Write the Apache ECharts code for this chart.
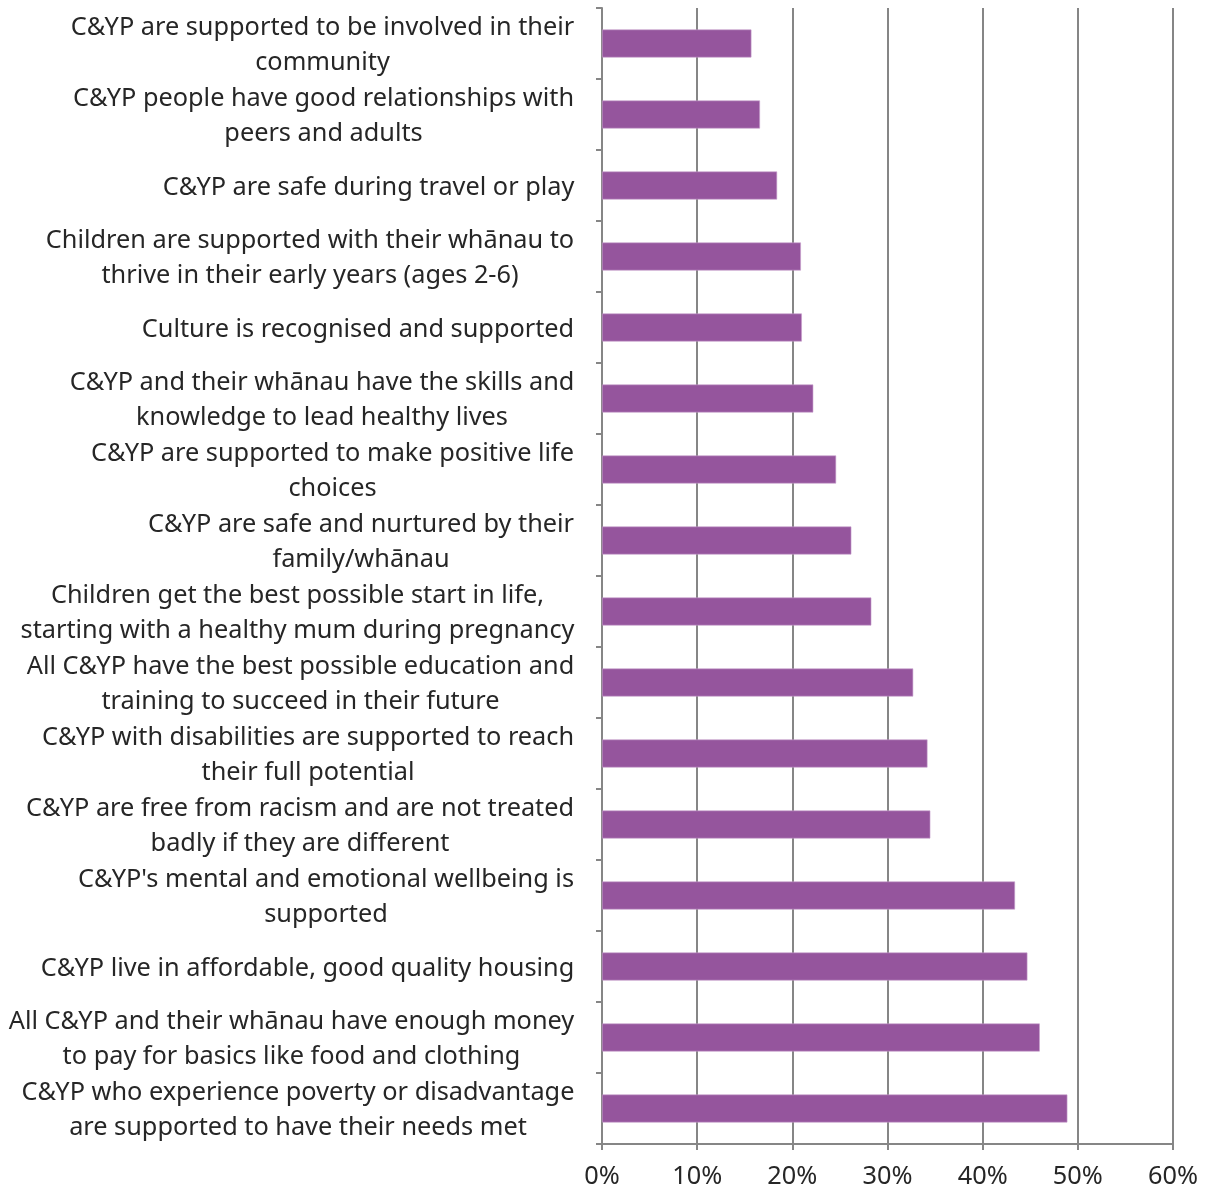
<!DOCTYPE html>
<html><head><meta charset="utf-8">
<script src="https://cdn.jsdelivr.net/npm/echarts@6/dist/echarts.min.js"></script>
<style>html,body{margin:0;padding:0;background:#fff}#c{width:1209px;height:1191px}</style>
</head><body><div id="c"></div>
<script>
var categories = [
  "C&YP are supported to be involved in their\ncommunity",
  "C&YP people have good relationships with\npeers and adults",
  "C&YP are safe during travel or play",
  "Children are supported with their whānau to\nthrive in their early years (ages 2-6)",
  "Culture is recognised and supported",
  "C&YP and their whānau have the skills and\nknowledge to lead healthy lives",
  "C&YP are supported to make positive life\nchoices",
  "C&YP are safe and nurtured by their\nfamily/whānau",
  "Children get the best possible start in life,\nstarting with a healthy mum during pregnancy",
  "All C&YP have the best possible education and\ntraining to succeed in their future",
  "C&YP with disabilities are supported to reach\ntheir full potential",
  "C&YP are free from racism and are not treated\nbadly if they are different",
  "C&YP's mental and emotional wellbeing is\nsupported",
  "C&YP live in affordable, good quality housing",
  "All C&YP and their whānau have enough money\nto pay for basics like food and clothing",
  "C&YP who experience poverty or disadvantage\nare supported to have their needs met"
];
var values = [0.157, 0.166, 0.184, 0.209, 0.210, 0.222, 0.246, 0.262, 0.283, 0.327, 0.342, 0.345, 0.434, 0.447, 0.460, 0.489];
var xTicks = [0, 0.1, 0.2, 0.3, 0.4, 0.5, 0.6];

var FONT_SIZE = 25.3;
var FONT_FAMILY = "'Noto Sans', 'Open Sans', sans-serif";
var TEXT_COLOR = '#262626';

var ctx = document.createElement('canvas').getContext('2d');
ctx.font = FONT_SIZE + 'px ' + FONT_FAMILY;
var rich = {};
categories.forEach(function (c, i) {
  var w = 0;
  c.split('\n').forEach(function (l) { w = Math.max(w, ctx.measureText(l).width); });
  rich['c' + i] = { width: Math.ceil(w) + 1, align: 'center', fontSize: FONT_SIZE, fontFamily: FONT_FAMILY, color: TEXT_COLOR, lineHeight: 35.5 };
});

var chart = echarts.init(document.getElementById('c'), null, { renderer: 'canvas' });
chart.setOption({
  animation: false,
  backgroundColor: '#ffffff',
  grid: { left: 602, right: 36, top: 8, bottom: 47, containLabel: false },
  xAxis: {
    type: 'value', min: 0, max: 0.6, interval: 0.1,
    axisLine: { show: true, lineStyle: { color: '#868686', width: 2 } },
    axisTick: { show: true, length: 6, lineStyle: { color: '#868686', width: 2 } },
    splitLine: { show: true, lineStyle: { color: '#868686', width: 2 } },
    axisLabel: {
      margin: 20, fontSize: FONT_SIZE, fontFamily: FONT_FAMILY, color: TEXT_COLOR,
      formatter: function (v) {
        for (var k = 0; k < xTicks.length; k++) {
          if (Math.abs(xTicks[k] - v) < 1e-9) return Math.round(xTicks[k] * 100) + '%';
        }
        return '';
      }
    }
  },
  yAxis: {
    type: 'category', data: categories, inverse: true,
    axisLine: { show: true, lineStyle: { color: '#868686', width: 2 } },
    axisTick: { show: true, length: 6, lineStyle: { color: '#868686', width: 2 } },
    splitLine: { show: false },
    axisLabel: {
      margin: 27, interval: 0, padding: [4, 0, 0, 0],
      fontSize: FONT_SIZE, fontFamily: FONT_FAMILY, color: TEXT_COLOR,
      rich: rich,
      formatter: function (v) {
        var i = categories.indexOf(v);
        return v.split('\n').map(function (l) { return '{c' + i + '|' + l + '}'; }).join('\n');
      }
    }
  },
  series: [{
    type: 'bar', data: values, barWidth: 28,
    itemStyle: { color: '#95559D', borderColor: '#c79fcc', borderWidth: 0.6 }
  }]
});
</script></body></html>
